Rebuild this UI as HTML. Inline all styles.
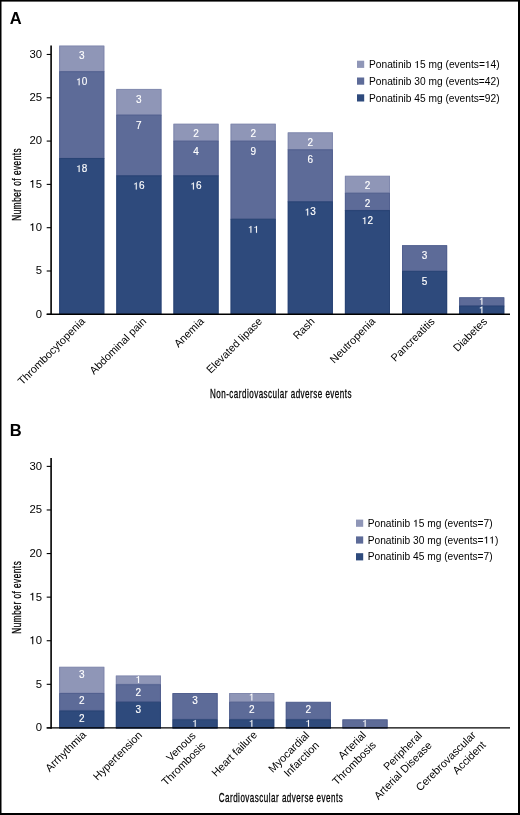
<!DOCTYPE html>
<html><head><meta charset="utf-8"><style>
html,body{margin:0;padding:0;background:#fff;}
body{width:520px;height:815px;overflow:hidden;}
svg{display:block;will-change:transform;font-family:"Liberation Sans",sans-serif;}
</style></head><body>
<svg width="520" height="815" viewBox="0 0 520 815">
<rect x="0" y="0" width="520" height="815" fill="#fff"/>
<text x="9.8" y="23.8" font-size="16.5" font-weight="bold">A</text>
<rect x="59.20" y="45.91" width="45.1" height="26.04" fill="#8f96b7"/>
<rect x="59.70" y="46.01" width="44.1" height="25.44" fill="none" stroke="#8088ad" stroke-width="1"/>
<rect x="59.20" y="71.65" width="45.1" height="87.09" fill="#5d6b98"/>
<rect x="59.70" y="71.75" width="44.1" height="86.49" fill="none" stroke="#52608f" stroke-width="1"/>
<rect x="59.20" y="158.44" width="45.1" height="156.52" fill="#2e4a7c"/>
<rect x="59.70" y="158.54" width="44.1" height="155.92" fill="none" stroke="#284374" stroke-width="1"/>
<path d="M505 0 L700 0 L700 1409 L550 1409 C525 1300 430 1195 190 1180 L190 1025 C330 1025 440 1065 505 1115 Z" fill="#fff" stroke="#fff" stroke-width="30.7" transform="translate(76.19,172.04) scale(0.00488,-0.00488)"/><text x="81.75" y="172.04" font-size="10" fill="#fff" stroke="#fff" stroke-width="0.15">8</text>
<path d="M505 0 L700 0 L700 1409 L550 1409 C525 1300 430 1195 190 1180 L190 1025 C330 1025 440 1065 505 1115 Z" fill="#fff" stroke="#fff" stroke-width="30.7" transform="translate(76.19,85.25) scale(0.00488,-0.00488)"/><text x="81.75" y="85.25" font-size="10" fill="#fff" stroke="#fff" stroke-width="0.15">0</text>
<text x="78.97" y="59.21" font-size="10" fill="#fff" stroke="#fff" stroke-width="0.15">3</text>
<rect x="116.34" y="89.31" width="45.1" height="26.04" fill="#8f96b7"/>
<rect x="116.84" y="89.41" width="44.1" height="25.44" fill="none" stroke="#8088ad" stroke-width="1"/>
<rect x="116.34" y="115.04" width="45.1" height="61.05" fill="#5d6b98"/>
<rect x="116.84" y="115.14" width="44.1" height="60.45" fill="none" stroke="#52608f" stroke-width="1"/>
<rect x="116.34" y="175.80" width="45.1" height="139.16" fill="#2e4a7c"/>
<rect x="116.84" y="175.90" width="44.1" height="138.56" fill="none" stroke="#284374" stroke-width="1"/>
<path d="M505 0 L700 0 L700 1409 L550 1409 C525 1300 430 1195 190 1180 L190 1025 C330 1025 440 1065 505 1115 Z" fill="#fff" stroke="#fff" stroke-width="30.7" transform="translate(133.33,189.40) scale(0.00488,-0.00488)"/><text x="138.89" y="189.40" font-size="10" fill="#fff" stroke="#fff" stroke-width="0.15">6</text>
<text x="136.11" y="128.64" font-size="10" fill="#fff" stroke="#fff" stroke-width="0.15">7</text>
<text x="136.11" y="102.61" font-size="10" fill="#fff" stroke="#fff" stroke-width="0.15">3</text>
<rect x="173.48" y="124.02" width="45.1" height="17.36" fill="#8f96b7"/>
<rect x="173.98" y="124.12" width="44.1" height="16.76" fill="none" stroke="#8088ad" stroke-width="1"/>
<rect x="173.48" y="141.08" width="45.1" height="35.02" fill="#5d6b98"/>
<rect x="173.98" y="141.18" width="44.1" height="34.42" fill="none" stroke="#52608f" stroke-width="1"/>
<rect x="173.48" y="175.80" width="45.1" height="139.16" fill="#2e4a7c"/>
<rect x="173.98" y="175.90" width="44.1" height="138.56" fill="none" stroke="#284374" stroke-width="1"/>
<path d="M505 0 L700 0 L700 1409 L550 1409 C525 1300 430 1195 190 1180 L190 1025 C330 1025 440 1065 505 1115 Z" fill="#fff" stroke="#fff" stroke-width="30.7" transform="translate(190.47,189.40) scale(0.00488,-0.00488)"/><text x="196.03" y="189.40" font-size="10" fill="#fff" stroke="#fff" stroke-width="0.15">6</text>
<text x="193.25" y="154.68" font-size="10" fill="#fff" stroke="#fff" stroke-width="0.15">4</text>
<text x="193.25" y="137.32" font-size="10" fill="#fff" stroke="#fff" stroke-width="0.15">2</text>
<rect x="230.62" y="124.02" width="45.1" height="17.36" fill="#8f96b7"/>
<rect x="231.12" y="124.12" width="44.1" height="16.76" fill="none" stroke="#8088ad" stroke-width="1"/>
<rect x="230.62" y="141.08" width="45.1" height="78.41" fill="#5d6b98"/>
<rect x="231.12" y="141.18" width="44.1" height="77.81" fill="none" stroke="#52608f" stroke-width="1"/>
<rect x="230.62" y="219.19" width="45.1" height="95.77" fill="#2e4a7c"/>
<rect x="231.12" y="219.29" width="44.1" height="95.17" fill="none" stroke="#284374" stroke-width="1"/>
<path d="M505 0 L700 0 L700 1409 L550 1409 C525 1300 430 1195 190 1180 L190 1025 C330 1025 440 1065 505 1115 Z" fill="#fff" stroke="#fff" stroke-width="30.7" transform="translate(247.98,232.79) scale(0.00488,-0.00488)"/><path d="M505 0 L700 0 L700 1409 L550 1409 C525 1300 430 1195 190 1180 L190 1025 C330 1025 440 1065 505 1115 Z" fill="#fff" stroke="#fff" stroke-width="30.7" transform="translate(253.54,232.79) scale(0.00488,-0.00488)"/>
<text x="250.39" y="154.68" font-size="10" fill="#fff" stroke="#fff" stroke-width="0.15">9</text>
<text x="250.39" y="137.32" font-size="10" fill="#fff" stroke="#fff" stroke-width="0.15">2</text>
<rect x="287.76" y="132.70" width="45.1" height="17.36" fill="#8f96b7"/>
<rect x="288.26" y="132.80" width="44.1" height="16.76" fill="none" stroke="#8088ad" stroke-width="1"/>
<rect x="287.76" y="149.76" width="45.1" height="52.37" fill="#5d6b98"/>
<rect x="288.26" y="149.86" width="44.1" height="51.77" fill="none" stroke="#52608f" stroke-width="1"/>
<rect x="287.76" y="201.83" width="45.1" height="113.13" fill="#2e4a7c"/>
<rect x="288.26" y="201.93" width="44.1" height="112.53" fill="none" stroke="#284374" stroke-width="1"/>
<path d="M505 0 L700 0 L700 1409 L550 1409 C525 1300 430 1195 190 1180 L190 1025 C330 1025 440 1065 505 1115 Z" fill="#fff" stroke="#fff" stroke-width="30.7" transform="translate(304.75,215.43) scale(0.00488,-0.00488)"/><text x="310.31" y="215.43" font-size="10" fill="#fff" stroke="#fff" stroke-width="0.15">3</text>
<text x="307.53" y="163.36" font-size="10" fill="#fff" stroke="#fff" stroke-width="0.15">6</text>
<text x="307.53" y="146.00" font-size="10" fill="#fff" stroke="#fff" stroke-width="0.15">2</text>
<rect x="344.90" y="176.10" width="45.1" height="17.36" fill="#8f96b7"/>
<rect x="345.40" y="176.20" width="44.1" height="16.76" fill="none" stroke="#8088ad" stroke-width="1"/>
<rect x="344.90" y="193.15" width="45.1" height="17.66" fill="#5d6b98"/>
<rect x="345.40" y="193.25" width="44.1" height="17.06" fill="none" stroke="#52608f" stroke-width="1"/>
<rect x="344.90" y="210.51" width="45.1" height="104.45" fill="#2e4a7c"/>
<rect x="345.40" y="210.61" width="44.1" height="103.85" fill="none" stroke="#284374" stroke-width="1"/>
<path d="M505 0 L700 0 L700 1409 L550 1409 C525 1300 430 1195 190 1180 L190 1025 C330 1025 440 1065 505 1115 Z" fill="#fff" stroke="#fff" stroke-width="30.7" transform="translate(361.89,224.11) scale(0.00488,-0.00488)"/><text x="367.45" y="224.11" font-size="10" fill="#fff" stroke="#fff" stroke-width="0.15">2</text>
<text x="364.67" y="206.75" font-size="10" fill="#fff" stroke="#fff" stroke-width="0.15">2</text>
<text x="364.67" y="189.40" font-size="10" fill="#fff" stroke="#fff" stroke-width="0.15">2</text>
<rect x="402.04" y="245.53" width="45.1" height="26.04" fill="#5d6b98"/>
<rect x="402.54" y="245.63" width="44.1" height="25.44" fill="none" stroke="#52608f" stroke-width="1"/>
<rect x="402.04" y="271.26" width="45.1" height="43.70" fill="#2e4a7c"/>
<rect x="402.54" y="271.37" width="44.1" height="43.09" fill="none" stroke="#284374" stroke-width="1"/>
<text x="421.81" y="284.87" font-size="10" fill="#fff" stroke="#fff" stroke-width="0.15">5</text>
<text x="421.81" y="258.83" font-size="10" fill="#fff" stroke="#fff" stroke-width="0.15">3</text>
<rect x="459.18" y="297.60" width="45.1" height="8.68" fill="#5d6b98"/>
<rect x="459.68" y="297.70" width="44.1" height="8.08" fill="none" stroke="#52608f" stroke-width="1"/>
<rect x="459.18" y="305.98" width="45.1" height="8.98" fill="#2e4a7c"/>
<rect x="459.68" y="306.08" width="44.1" height="8.38" fill="none" stroke="#284374" stroke-width="1"/>
<path d="M505 0 L700 0 L700 1409 L550 1409 C525 1300 430 1195 190 1180 L190 1025 C330 1025 440 1065 505 1115 Z" fill="#fff" stroke="#fff" stroke-width="30.7" transform="translate(478.95,313.38) scale(0.00488,-0.00488)"/>
<path d="M505 0 L700 0 L700 1409 L550 1409 C525 1300 430 1195 190 1180 L190 1025 C330 1025 440 1065 505 1115 Z" fill="#fff" stroke="#fff" stroke-width="30.7" transform="translate(478.95,304.70) scale(0.00488,-0.00488)"/>
<line x1="51.1" y1="45.6" x2="51.1" y2="315.05" stroke="#000" stroke-width="1.6"/>
<line x1="46.7" y1="314.3" x2="510" y2="314.3" stroke="#000" stroke-width="1.4"/>
<line x1="46.7" y1="314.30" x2="51" y2="314.30" stroke="#000" stroke-width="1.1"/>
<text x="35.72" y="317.70" font-size="11.3" fill="#000" >0</text>
<line x1="46.7" y1="271.00" x2="51" y2="271.00" stroke="#000" stroke-width="1.1"/>
<text x="35.72" y="274.39" font-size="11.3" fill="#000" >5</text>
<line x1="46.7" y1="227.69" x2="51" y2="227.69" stroke="#000" stroke-width="1.1"/>
<path d="M505 0 L700 0 L700 1409 L550 1409 C525 1300 430 1195 190 1180 L190 1025 C330 1025 440 1065 505 1115 Z" fill="#000"  transform="translate(29.43,231.09) scale(0.00552,-0.00552)"/><text x="35.72" y="231.09" font-size="11.3" fill="#000" >0</text>
<line x1="46.7" y1="184.39" x2="51" y2="184.39" stroke="#000" stroke-width="1.1"/>
<path d="M505 0 L700 0 L700 1409 L550 1409 C525 1300 430 1195 190 1180 L190 1025 C330 1025 440 1065 505 1115 Z" fill="#000"  transform="translate(29.43,187.79) scale(0.00552,-0.00552)"/><text x="35.72" y="187.79" font-size="11.3" fill="#000" >5</text>
<line x1="46.7" y1="141.08" x2="51" y2="141.08" stroke="#000" stroke-width="1.1"/>
<text x="29.43" y="144.48" font-size="11.3" fill="#000" >20</text>
<line x1="46.7" y1="97.78" x2="51" y2="97.78" stroke="#000" stroke-width="1.1"/>
<text x="29.43" y="101.18" font-size="11.3" fill="#000" >25</text>
<line x1="46.7" y1="54.47" x2="51" y2="54.47" stroke="#000" stroke-width="1.1"/>
<text x="29.43" y="57.87" font-size="11.3" fill="#000" >30</text>
<text transform="translate(85.75,322.10) rotate(-45)" font-size="10.85" text-anchor="end"><tspan x="0" y="0.0">Thrombocytopenia</tspan></text>
<text transform="translate(146.99,322.10) rotate(-45)" font-size="10.85" text-anchor="end"><tspan x="0" y="0.0">Abdominal pain</tspan></text>
<text transform="translate(204.43,322.10) rotate(-45)" font-size="10.85" text-anchor="end"><tspan x="0" y="0.0">Anemia</tspan></text>
<text transform="translate(262.77,322.10) rotate(-45)" font-size="10.85" text-anchor="end"><tspan x="0" y="0.0">Elevated lipase</tspan></text>
<text transform="translate(315.31,322.10) rotate(-45)" font-size="10.85" text-anchor="end"><tspan x="0" y="0.0">Rash</tspan></text>
<text transform="translate(375.95,322.10) rotate(-45)" font-size="10.85" text-anchor="end"><tspan x="0" y="0.0">Neutropenia</tspan></text>
<text transform="translate(435.39,322.10) rotate(-45)" font-size="10.85" text-anchor="end"><tspan x="0" y="0.0">Pancreatitis</tspan></text>
<text transform="translate(487.73,322.10) rotate(-45)" font-size="10.85" text-anchor="end"><tspan x="0" y="0.0">Diabetes</tspan></text>
<text x="281" y="397.6" font-size="12.6" letter-spacing="0.75" text-anchor="middle" transform="translate(281,0) scale(0.64,1) translate(-281,0)" stroke="#000" stroke-width="0.3">Non-cardiovascular adverse events</text>
<text transform="translate(21.2,184.3) rotate(-90) scale(0.65,1)" font-size="12.7" letter-spacing="0.75" text-anchor="middle" stroke="#000" stroke-width="0.3">Number of events</text>
<rect x="357" y="60.70" width="7.2" height="7.2" fill="#8f96b7"/>
<text x="369.00" y="67.90" font-size="10.2" fill="#000" >Ponatinib </text><path d="M505 0 L700 0 L700 1409 L550 1409 C525 1300 430 1195 190 1180 L190 1025 C330 1025 440 1065 505 1115 Z" fill="#000"  transform="translate(414.36,67.90) scale(0.00498,-0.00498)"/><text x="420.04" y="67.90" font-size="10.2" fill="#000" >5 mg (events=</text><path d="M505 0 L700 0 L700 1409 L550 1409 C525 1300 430 1195 190 1180 L190 1025 C330 1025 440 1065 505 1115 Z" fill="#000"  transform="translate(484.95,67.90) scale(0.00498,-0.00498)"/><text x="490.62" y="67.90" font-size="10.2" fill="#000" >4)</text>
<rect x="357" y="77.50" width="7.2" height="7.2" fill="#5d6b98"/>
<text x="369.00" y="84.70" font-size="10.2" fill="#000" >Ponatinib 30 mg (events=42)</text>
<rect x="357" y="94.30" width="7.2" height="7.2" fill="#2e4a7c"/>
<text x="369.00" y="101.50" font-size="10.2" fill="#000" >Ponatinib 45 mg (events=92)</text>
<text x="9.8" y="436.2" font-size="16.5" font-weight="bold">B</text>
<rect x="59.20" y="667.10" width="45.1" height="26.30" fill="#8f96b7"/>
<rect x="59.70" y="667.20" width="44.1" height="25.70" fill="none" stroke="#8088ad" stroke-width="1"/>
<rect x="59.20" y="693.40" width="45.1" height="17.53" fill="#5d6b98"/>
<rect x="59.70" y="693.50" width="44.1" height="16.93" fill="none" stroke="#52608f" stroke-width="1"/>
<rect x="59.20" y="710.94" width="45.1" height="17.53" fill="#2e4a7c"/>
<rect x="59.70" y="711.04" width="44.1" height="16.93" fill="none" stroke="#284374" stroke-width="1"/>
<text x="78.97" y="721.84" font-size="10" fill="#fff" stroke="#fff" stroke-width="0.15">2</text>
<text x="78.97" y="704.30" font-size="10" fill="#fff" stroke="#fff" stroke-width="0.15">2</text>
<text x="78.97" y="678.00" font-size="10" fill="#fff" stroke="#fff" stroke-width="0.15">3</text>
<rect x="115.85" y="675.87" width="45.1" height="8.77" fill="#8f96b7"/>
<rect x="116.35" y="675.97" width="44.1" height="8.17" fill="none" stroke="#8088ad" stroke-width="1"/>
<rect x="115.85" y="684.63" width="45.1" height="17.53" fill="#5d6b98"/>
<rect x="116.35" y="684.74" width="44.1" height="16.93" fill="none" stroke="#52608f" stroke-width="1"/>
<rect x="115.85" y="702.17" width="45.1" height="26.30" fill="#2e4a7c"/>
<rect x="116.35" y="702.27" width="44.1" height="25.70" fill="none" stroke="#284374" stroke-width="1"/>
<text x="135.62" y="713.07" font-size="10" fill="#fff" stroke="#fff" stroke-width="0.15">3</text>
<text x="135.62" y="695.53" font-size="10" fill="#fff" stroke="#fff" stroke-width="0.15">2</text>
<path d="M505 0 L700 0 L700 1409 L550 1409 C525 1300 430 1195 190 1180 L190 1025 C330 1025 440 1065 505 1115 Z" fill="#fff" stroke="#fff" stroke-width="30.7" transform="translate(135.62,682.97) scale(0.00488,-0.00488)"/>
<rect x="172.50" y="693.40" width="45.1" height="26.30" fill="#5d6b98"/>
<rect x="173.00" y="693.50" width="44.1" height="25.70" fill="none" stroke="#52608f" stroke-width="1"/>
<rect x="172.50" y="719.70" width="45.1" height="8.77" fill="#2e4a7c"/>
<rect x="173.00" y="719.80" width="44.1" height="8.17" fill="none" stroke="#284374" stroke-width="1"/>
<path d="M505 0 L700 0 L700 1409 L550 1409 C525 1300 430 1195 190 1180 L190 1025 C330 1025 440 1065 505 1115 Z" fill="#fff" stroke="#fff" stroke-width="30.7" transform="translate(192.27,726.80) scale(0.00488,-0.00488)"/>
<text x="192.27" y="704.30" font-size="10" fill="#fff" stroke="#fff" stroke-width="0.15">3</text>
<rect x="229.15" y="693.40" width="45.1" height="8.77" fill="#8f96b7"/>
<rect x="229.65" y="693.50" width="44.1" height="8.17" fill="none" stroke="#8088ad" stroke-width="1"/>
<rect x="229.15" y="702.17" width="45.1" height="17.53" fill="#5d6b98"/>
<rect x="229.65" y="702.27" width="44.1" height="16.93" fill="none" stroke="#52608f" stroke-width="1"/>
<rect x="229.15" y="719.70" width="45.1" height="8.77" fill="#2e4a7c"/>
<rect x="229.65" y="719.80" width="44.1" height="8.17" fill="none" stroke="#284374" stroke-width="1"/>
<path d="M505 0 L700 0 L700 1409 L550 1409 C525 1300 430 1195 190 1180 L190 1025 C330 1025 440 1065 505 1115 Z" fill="#fff" stroke="#fff" stroke-width="30.7" transform="translate(248.92,726.80) scale(0.00488,-0.00488)"/>
<text x="248.92" y="713.07" font-size="10" fill="#fff" stroke="#fff" stroke-width="0.15">2</text>
<path d="M505 0 L700 0 L700 1409 L550 1409 C525 1300 430 1195 190 1180 L190 1025 C330 1025 440 1065 505 1115 Z" fill="#fff" stroke="#fff" stroke-width="30.7" transform="translate(248.92,700.50) scale(0.00488,-0.00488)"/>
<rect x="285.80" y="702.17" width="45.1" height="17.53" fill="#5d6b98"/>
<rect x="286.30" y="702.27" width="44.1" height="16.93" fill="none" stroke="#52608f" stroke-width="1"/>
<rect x="285.80" y="719.70" width="45.1" height="8.77" fill="#2e4a7c"/>
<rect x="286.30" y="719.80" width="44.1" height="8.17" fill="none" stroke="#284374" stroke-width="1"/>
<path d="M505 0 L700 0 L700 1409 L550 1409 C525 1300 430 1195 190 1180 L190 1025 C330 1025 440 1065 505 1115 Z" fill="#fff" stroke="#fff" stroke-width="30.7" transform="translate(305.57,726.80) scale(0.00488,-0.00488)"/>
<text x="305.57" y="713.07" font-size="10" fill="#fff" stroke="#fff" stroke-width="0.15">2</text>
<rect x="342.45" y="719.70" width="45.1" height="8.77" fill="#5d6b98"/>
<rect x="342.95" y="719.80" width="44.1" height="8.17" fill="none" stroke="#52608f" stroke-width="1"/>
<path d="M505 0 L700 0 L700 1409 L550 1409 C525 1300 430 1195 190 1180 L190 1025 C330 1025 440 1065 505 1115 Z" fill="#fff" stroke="#fff" stroke-width="30.7" transform="translate(362.22,726.80) scale(0.00488,-0.00488)"/>
<line x1="51.1" y1="458" x2="51.1" y2="728.65" stroke="#000" stroke-width="1.6"/>
<line x1="46.7" y1="727.9" x2="510" y2="727.9" stroke="#000" stroke-width="1.4"/>
<line x1="46.7" y1="727.90" x2="51" y2="727.90" stroke="#000" stroke-width="1.1"/>
<text x="35.72" y="731.30" font-size="11.3" fill="#000" >0</text>
<line x1="46.7" y1="684.31" x2="51" y2="684.31" stroke="#000" stroke-width="1.1"/>
<text x="35.72" y="687.71" font-size="11.3" fill="#000" >5</text>
<line x1="46.7" y1="640.73" x2="51" y2="640.73" stroke="#000" stroke-width="1.1"/>
<path d="M505 0 L700 0 L700 1409 L550 1409 C525 1300 430 1195 190 1180 L190 1025 C330 1025 440 1065 505 1115 Z" fill="#000"  transform="translate(29.43,644.13) scale(0.00552,-0.00552)"/><text x="35.72" y="644.13" font-size="11.3" fill="#000" >0</text>
<line x1="46.7" y1="597.14" x2="51" y2="597.14" stroke="#000" stroke-width="1.1"/>
<path d="M505 0 L700 0 L700 1409 L550 1409 C525 1300 430 1195 190 1180 L190 1025 C330 1025 440 1065 505 1115 Z" fill="#000"  transform="translate(29.43,600.54) scale(0.00552,-0.00552)"/><text x="35.72" y="600.54" font-size="11.3" fill="#000" >5</text>
<line x1="46.7" y1="553.56" x2="51" y2="553.56" stroke="#000" stroke-width="1.1"/>
<text x="29.43" y="556.96" font-size="11.3" fill="#000" >20</text>
<line x1="46.7" y1="509.97" x2="51" y2="509.97" stroke="#000" stroke-width="1.1"/>
<text x="29.43" y="513.38" font-size="11.3" fill="#000" >25</text>
<line x1="46.7" y1="466.39" x2="51" y2="466.39" stroke="#000" stroke-width="1.1"/>
<text x="29.43" y="469.79" font-size="11.3" fill="#000" >30</text>
<text transform="translate(86.75,735.40) rotate(-45)" font-size="10.85" text-anchor="end"><tspan x="0" y="0.0">Arrhythmia</tspan></text>
<text transform="translate(142.80,735.70) rotate(-45)" font-size="10.85" text-anchor="end"><tspan x="0" y="0.0">Hypertension</tspan></text>
<text transform="translate(196.25,736.40) rotate(-45)" font-size="10.85" text-anchor="end"><tspan x="0" y="0.0">Venous</tspan><tspan x="0" y="14.0">Thrombosis</tspan></text>
<text transform="translate(257.70,735.40) rotate(-45)" font-size="10.85" text-anchor="end"><tspan x="0" y="0.0">Heart failure</tspan></text>
<text transform="translate(309.85,736.10) rotate(-45)" font-size="10.85" text-anchor="end"><tspan x="0" y="0.0">Myocardial</tspan><tspan x="0" y="14.0">Infarction</tspan></text>
<text transform="translate(366.80,735.70) rotate(-45)" font-size="10.85" text-anchor="end"><tspan x="0" y="0.0">Arterial</tspan><tspan x="0" y="14.0">Thrombosis</tspan></text>
<text transform="translate(422.65,736.10) rotate(-45)" font-size="10.85" text-anchor="end"><tspan x="0" y="0.0">Peripheral</tspan><tspan x="0" y="14.0">Arterial Disease</tspan></text>
<text transform="translate(476.50,735.60) rotate(-45)" font-size="10.85" text-anchor="end"><tspan x="0" y="0.0">Cerebrovascular</tspan><tspan x="0" y="14.0">Accident</tspan></text>
<text x="281" y="802.2" font-size="12.6" letter-spacing="0.75" text-anchor="middle" transform="translate(281,0) scale(0.64,1) translate(-281,0)" stroke="#000" stroke-width="0.3">Cardiovascular adverse events</text>
<text transform="translate(21.2,597.2) rotate(-90) scale(0.65,1)" font-size="12.7" letter-spacing="0.75" text-anchor="middle" stroke="#000" stroke-width="0.3">Number of events</text>
<rect x="356" y="519.60" width="7.2" height="7.2" fill="#8f96b7"/>
<text x="367.70" y="526.80" font-size="10.2" fill="#000" >Ponatinib </text><path d="M505 0 L700 0 L700 1409 L550 1409 C525 1300 430 1195 190 1180 L190 1025 C330 1025 440 1065 505 1115 Z" fill="#000"  transform="translate(413.06,526.80) scale(0.00498,-0.00498)"/><text x="418.74" y="526.80" font-size="10.2" fill="#000" >5 mg (events=7)</text>
<rect x="356" y="536.40" width="7.2" height="7.2" fill="#5d6b98"/>
<text x="367.70" y="543.60" font-size="10.2" fill="#000" >Ponatinib 30 mg (events=</text><path d="M505 0 L700 0 L700 1409 L550 1409 C525 1300 430 1195 190 1180 L190 1025 C330 1025 440 1065 505 1115 Z" fill="#000"  transform="translate(483.65,543.60) scale(0.00498,-0.00498)"/><path d="M505 0 L700 0 L700 1409 L550 1409 C525 1300 430 1195 190 1180 L190 1025 C330 1025 440 1065 505 1115 Z" fill="#000"  transform="translate(489.32,543.60) scale(0.00498,-0.00498)"/><text x="494.99" y="543.60" font-size="10.2" fill="#000" >)</text>
<rect x="356" y="553.20" width="7.2" height="7.2" fill="#2e4a7c"/>
<text x="367.70" y="560.40" font-size="10.2" fill="#000" >Ponatinib 45 mg (events=7)</text>
<rect x="0" y="0" width="520" height="1.6" fill="#000"/>
<rect x="0" y="813" width="520" height="2" fill="#000"/>
<rect x="0" y="0" width="1.5" height="815" fill="#000"/>
<rect x="518" y="0" width="2" height="815" fill="#000"/>
</svg>
</body></html>
